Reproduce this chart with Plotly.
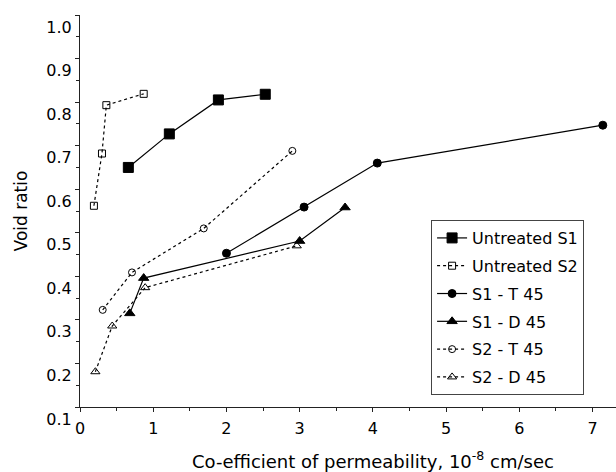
import plotly.graph_objects as go

# Void ratio vs. co-efficient of permeability (10^-8 cm/sec)
untreated_s1_k = [0.66, 1.22, 1.89, 2.53]
untreated_s1_e = [0.650, 0.727, 0.805, 0.818]

untreated_s2_k = [0.19, 0.30, 0.36, 0.87]
untreated_s2_e = [0.562, 0.682, 0.793, 0.819]

s1_t45_k = [2.00, 3.06, 4.06, 7.14]
s1_t45_e = [0.453, 0.559, 0.660, 0.747]

s1_d45_k = [0.68, 0.87, 3.00, 3.62]
s1_d45_e = [0.315, 0.396, 0.481, 0.558]

s2_t45_k = [0.31, 0.71, 1.69, 2.90]
s2_t45_e = [0.323, 0.409, 0.510, 0.688]

s2_d45_k = [0.21, 0.44, 0.89, 2.96]
s2_d45_e = [0.181, 0.286, 0.374, 0.470]

series_names = ["Untreated S1", "Untreated S2", "S1 - T 45",
                "S1 - D 45", "S2 - T 45", "S2 - D 45"]

x_tick_vals = [0, 1, 2, 3, 4, 5, 6, 7]
y_tick_vals = [0.1, 0.2, 0.3, 0.4, 0.5, 0.6, 0.7, 0.8, 0.9, 1.0]

FONT = "DejaVu Sans"

styles = [
    (untreated_s1_k, untreated_s1_e, "solid", "square", 10),
    (untreated_s2_k, untreated_s2_e, "dot", "square-open", 7),
    (s1_t45_k, s1_t45_e, "solid", "circle", 8),
    (s1_d45_k, s1_d45_e, "solid", "triangle-up", 9),
    (s2_t45_k, s2_t45_e, "dot", "circle-open", 7),
    (s2_d45_k, s2_d45_e, "dot", "triangle-up-open", 8),
]

fig = go.Figure()
for i, (name, (xs, ys, dash, sym, size)) in enumerate(zip(series_names, styles)):
    fig.add_trace(go.Scatter(
        x=xs, y=ys, name=name, mode="lines+markers",
        legendgroup=f"g{i}",
        line=dict(color="black", width=1.2, dash=dash),
        marker=dict(symbol=sym, size=size, color="black",
                    line=dict(color="black", width=1)),
    ))

fig.update_layout(
    width=616, height=472,
    margin=dict(l=80, r=0, t=15, b=65),
    paper_bgcolor="white", plot_bgcolor="white",
    font=dict(family=FONT, size=16, color="black"),
    showlegend=True,
    legend=dict(
        x=0.655, y=0.477, xanchor="left", yanchor="top",
        bgcolor="white", bordercolor="#444", borderwidth=1,
        font=dict(family=FONT, size=16, color="black"),
        tracegroupgap=4,
    ),
    xaxis=dict(
        range=[0, 7.32], tickvals=x_tick_vals,
        showgrid=False, zeroline=False,
        showline=True, linecolor="#222", linewidth=1,
        ticks="outside", ticklen=4, tickcolor="#222",
        minor=dict(dtick=0.5, ticks="outside", ticklen=3, tickcolor="#222"),
        tickfont=dict(size=16), ticklabelstandoff=3,
    ),
    yaxis=dict(
        title=dict(text="Void ratio", font=dict(size=17), standoff=14),
        range=[0.1, 1.0], tickvals=y_tick_vals, tickformat=".1f",
        showgrid=False, zeroline=False,
        showline=True, linecolor="#222", linewidth=1,
        ticks="outside", ticklen=4, tickcolor="#222",
        minor=dict(dtick=0.05, ticks="outside", ticklen=3, tickcolor="#222"),
        tickfont=dict(size=16), ticklabelshift=12,
    ),
    annotations=[dict(
        text="Co-efficient of permeability, 10<sup>-8</sup> cm/sec",
        xref="paper", yref="paper", x=0.547, y=-0.1,
        xanchor="center", yanchor="top", showarrow=False,
        font=dict(family=FONT, size=18, color="black"),
    )],
)

fig.write_html("out.html")
